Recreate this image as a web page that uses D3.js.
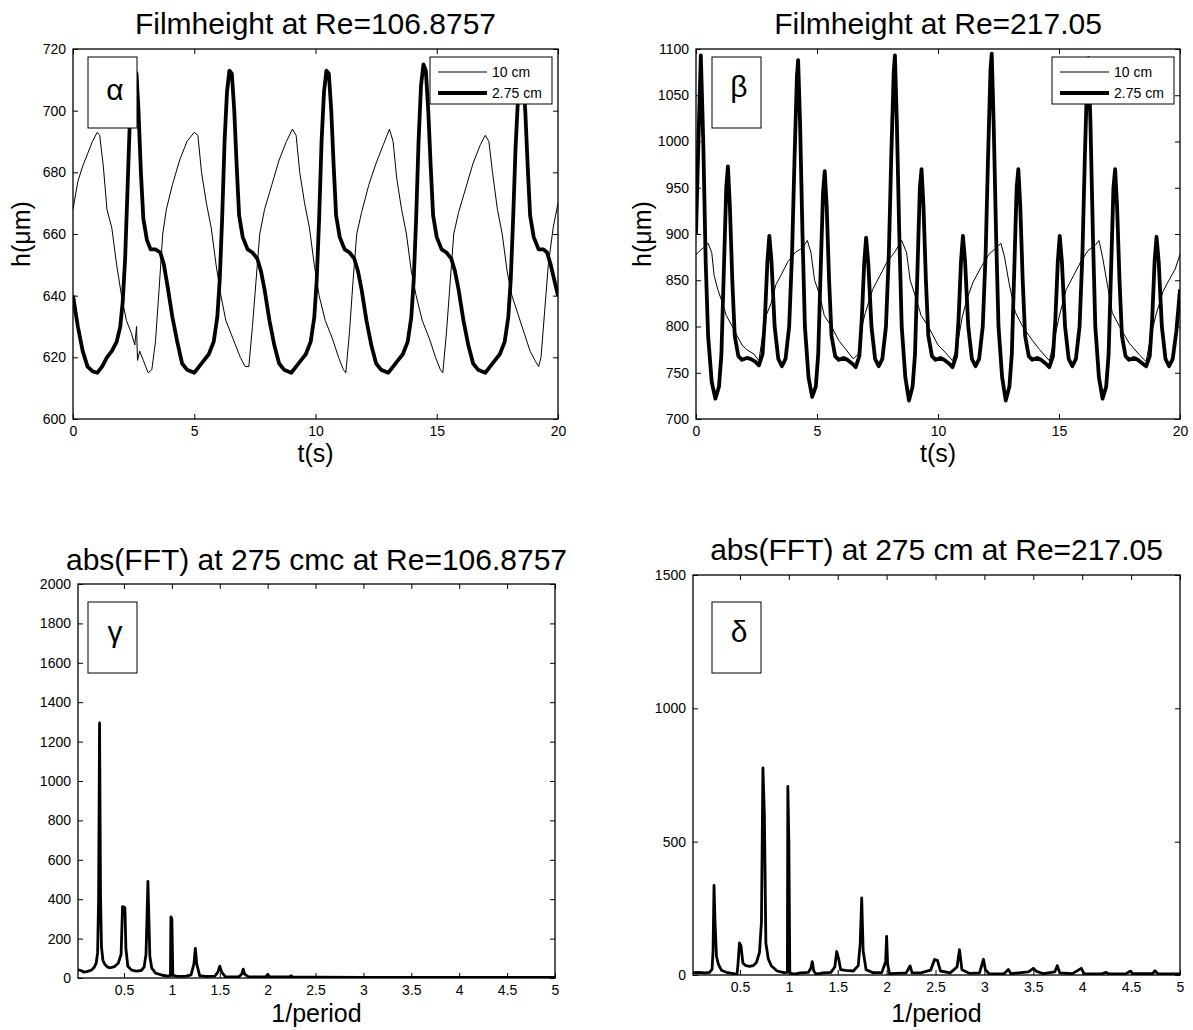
<!DOCTYPE html>
<html><head><meta charset="utf-8">
<script src="https://cdn.jsdelivr.net/npm/d3@7"></script>
<style>body{margin:0;background:#fff}svg{display:block}text{font-family:"Liberation Sans",Arial,sans-serif}</style>
</head><body>
<script>
// ---------------- DATA ----------------
const alphaTicksX = [0,5,10,15,20];
const alphaTicksY = [600,620,640,660,680,700,720];
const betaTicksY = [700,750,800,850,900,950,1000,1050,1100];
const gammaTicksY = [0,200,400,600,800,1000,1200,1400,1600,1800,2000];
const deltaTicksY = [0,500,1000,1500];
const fftTicksX = [0.5,1,1.5,2,2.5,3,3.5,4,4.5,5];
const legendLabels = ["10 cm","2.75 cm"];

// Panel alpha, Re=106.8757 : [t(s), h(um)]
const alpha10 = [[0,668],[0.2,677],[0.4,682],[0.6,686],[0.8,690],[1.0,693],[1.1,692],[1.25,682],[1.4,668],[1.6,662],[1.8,650],[2.0,640],[2.2,632],[2.4,628],[2.55,624],[2.62,630],[2.66,619],[2.75,622],[2.9,619],[3.1,615],[3.25,616],[3.4,625],[3.55,642],[3.7,660],[3.85,668],[4.1,676],[4.4,684],[4.7,690],[5.0,693],[5.15,692],[5.3,680],[5.5,670],[5.7,662],[5.9,650],[6.1,640],[6.3,632],[6.6,626],[6.9,620],[7.1,617],[7.25,617],[7.4,630],[7.55,645],[7.7,660],[7.9,668],[8.2,676],[8.5,684],[8.8,690],[9.05,694],[9.2,692],[9.35,680],[9.55,670],[9.75,662],[9.95,650],[10.15,640],[10.4,632],[10.7,626],[10.95,620],[11.15,616],[11.25,615],[11.4,628],[11.55,645],[11.7,660],[11.9,667],[12.2,676],[12.5,683],[12.8,689],[13.05,694],[13.2,690],[13.35,678],[13.55,668],[13.75,660],[13.95,648],[14.15,640],[14.4,632],[14.7,626],[14.95,620],[15.15,616],[15.25,615],[15.4,628],[15.55,644],[15.7,660],[15.9,667],[16.2,675],[16.5,683],[16.8,689],[17.0,692],[17.15,690],[17.3,680],[17.5,668],[17.7,660],[17.9,648],[18.1,640],[18.35,634],[18.6,628],[18.85,622],[19.05,619],[19.2,617],[19.3,620],[19.45,635],[19.6,650],[19.8,662],[20,670]];
const alpha275 = [[0,640],[0.2,630],[0.4,622],[0.6,617],[0.8,615.5],[1.0,615],[1.2,617],[1.4,620],[1.6,622],[1.8,625],[1.95,630],[2.05,638],[2.15,652],[2.25,675],[2.35,698],[2.45,710],[2.55,713],[2.62,712],[2.7,700],[2.8,680],[2.9,665],[3.05,658],[3.2,655],[3.4,655],[3.6,654],[3.75,650],[3.9,643],[4.1,633],[4.3,625],[4.5,618],[4.7,616],[5.0,615],[5.2,617],[5.4,619],[5.6,621],[5.8,625],[5.95,633],[6.05,645],[6.15,665],[6.25,690],[6.35,706],[6.45,713],[6.55,712],[6.65,700],[6.75,682],[6.85,666],[7.0,659],[7.2,655],[7.4,654],[7.6,652],[7.75,648],[7.9,642],[8.1,632],[8.3,624],[8.5,618],[8.7,616],[9.0,615],[9.2,617],[9.4,619],[9.6,621],[9.8,625],[9.95,633],[10.05,645],[10.15,665],[10.25,690],[10.35,706],[10.45,713],[10.55,712],[10.65,700],[10.75,682],[10.85,666],[11.0,659],[11.2,655],[11.4,654],[11.6,652],[11.75,648],[11.9,642],[12.1,632],[12.3,624],[12.5,618],[12.7,616],[13.0,615],[13.2,617],[13.4,619],[13.6,621],[13.8,625],[13.95,633],[14.05,645],[14.15,665],[14.25,690],[14.35,708],[14.45,715],[14.55,713],[14.65,700],[14.75,682],[14.85,666],[15.0,659],[15.2,655],[15.4,654],[15.6,652],[15.75,648],[15.9,642],[16.1,632],[16.3,624],[16.5,618],[16.7,616],[17.0,615],[17.2,617],[17.4,619],[17.6,621],[17.8,625],[17.95,633],[18.05,645],[18.15,665],[18.25,688],[18.35,704],[18.45,712],[18.55,712],[18.65,700],[18.75,682],[18.85,666],[19.0,659],[19.2,655],[19.4,655],[19.55,654],[19.7,650],[19.85,645],[20,640]];

// Panel beta, Re=217.05
const beta10 = [[0,878],[0.3,885],[0.5,890],[0.65,880],[0.75,855],[0.9,840],[1.1,825],[1.25,812],[1.5,800],[1.7,790],[1.9,780],[2.1,775],[2.4,770],[2.6,763],[2.75,790],[2.9,812],[3.1,825],[3.3,845],[3.5,855],[3.8,870],[4.1,880],[4.4,885],[4.6,893],[4.75,880],[4.9,850],[5.1,835],[5.3,812],[5.6,800],[5.9,785],[6.2,775],[6.5,765],[6.7,770],[6.85,800],[7.0,815],[7.3,840],[7.6,855],[7.9,870],[8.2,880],[8.5,893],[8.7,880],[8.85,850],[9.1,830],[9.3,812],[9.6,800],[10.0,780],[10.3,772],[10.6,763],[10.8,780],[11.0,810],[11.2,830],[11.45,848],[11.8,865],[12.1,878],[12.4,885],[12.6,890],[12.75,875],[12.95,845],[13.2,815],[13.5,800],[13.9,785],[14.2,775],[14.6,763],[14.8,785],[15.0,810],[15.3,840],[15.6,855],[15.9,870],[16.2,882],[16.5,888],[16.65,893],[16.8,875],[17.0,845],[17.2,815],[17.5,800],[17.9,782],[18.3,770],[18.6,762],[18.8,790],[19.0,812],[19.3,838],[19.5,848],[19.8,862],[20,878]];
const beta275 = [[0,900],[0.1,1000],[0.2,1093],[0.3,1000],[0.4,870],[0.5,790],[0.65,740],[0.8,722],[0.95,735],[1.05,770],[1.15,860],[1.25,950],[1.32,973],[1.4,930],[1.5,850],[1.6,790],[1.75,768],[1.9,764],[2.1,766],[2.25,765],[2.45,762],[2.6,758],[2.75,770],[2.85,810],[2.95,870],[3.03,898],[3.12,870],[3.25,800],[3.4,765],[3.55,757],[3.7,765],[3.85,800],[3.97,880],[4.07,980],[4.17,1070],[4.22,1088],[4.3,1020],[4.4,900],[4.5,800],[4.65,745],[4.8,724],[4.95,735],[5.05,770],[5.15,860],[5.25,945],[5.32,968],[5.4,930],[5.5,850],[5.6,790],[5.75,768],[5.9,764],[6.1,766],[6.25,764],[6.45,760],[6.6,756],[6.75,768],[6.85,808],[6.95,868],[7.03,896],[7.12,868],[7.25,800],[7.4,765],[7.55,757],[7.7,765],[7.85,800],[7.97,880],[8.07,985],[8.17,1075],[8.22,1093],[8.3,1020],[8.4,900],[8.5,800],[8.65,745],[8.8,720],[8.95,735],[9.05,770],[9.15,860],[9.25,950],[9.32,970],[9.4,930],[9.5,850],[9.6,790],[9.75,768],[9.9,764],[10.1,766],[10.25,764],[10.45,760],[10.6,756],[10.75,768],[10.85,808],[10.95,870],[11.03,898],[11.12,870],[11.25,800],[11.4,765],[11.55,757],[11.7,765],[11.85,800],[11.97,880],[12.07,985],[12.17,1078],[12.22,1095],[12.3,1020],[12.4,900],[12.5,800],[12.65,745],[12.8,720],[12.95,735],[13.05,770],[13.15,860],[13.25,950],[13.32,970],[13.4,930],[13.5,850],[13.6,790],[13.75,768],[13.9,764],[14.1,766],[14.25,764],[14.45,760],[14.6,756],[14.75,768],[14.85,808],[14.95,870],[15.03,898],[15.12,870],[15.25,800],[15.4,765],[15.55,757],[15.7,765],[15.85,800],[15.97,880],[16.07,985],[16.17,1075],[16.22,1090],[16.3,1020],[16.4,900],[16.5,800],[16.65,745],[16.8,722],[16.95,735],[17.05,770],[17.15,860],[17.25,950],[17.32,970],[17.4,930],[17.5,850],[17.6,790],[17.75,768],[17.9,764],[18.1,766],[18.25,764],[18.45,760],[18.6,757],[18.75,768],[18.85,808],[18.95,870],[19.03,897],[19.12,870],[19.25,800],[19.4,765],[19.55,757],[19.7,765],[19.85,795],[20,840]];

// Panel gamma: abs(FFT) at Re=106.8757 : [1/period, amplitude]
const gammaFFT = [[0.02,42],[0.05,38],[0.08,30],[0.12,34],[0.16,40],[0.19,55],[0.21,75],[0.225,130],[0.235,400],[0.245,1295],[0.255,420],[0.265,160],[0.28,90],[0.3,70],[0.33,55],[0.36,52],[0.4,58],[0.44,75],[0.47,120],[0.485,362],[0.5,360],[0.51,355],[0.52,150],[0.54,60],[0.58,40],[0.63,35],[0.68,38],[0.71,55],[0.73,120],[0.74,300],[0.75,490],[0.76,300],[0.77,110],[0.79,50],[0.83,25],[0.9,14],[0.96,10],[0.985,12],[0.99,310],[1.0,300],[1.01,15],[1.05,8],[1.15,10],[1.2,16],[1.23,70],[1.245,150],[1.26,70],[1.29,12],[1.35,8],[1.45,10],[1.48,30],[1.5,60],[1.52,30],[1.56,6],[1.7,6],[1.73,20],[1.745,45],[1.76,20],[1.8,6],[1.98,6],[2.0,18],[2.02,6],[2.23,5],[2.245,12],[2.26,5],[2.5,4],[3,3],[3.5,3],[4,3],[4.5,3],[5,3]];

// Panel delta: abs(FFT) at Re=217.05
const deltaFFT = [[0.02,9],[0.08,10],[0.14,8],[0.19,10],[0.215,22],[0.225,90],[0.235,336],[0.245,200],[0.26,70],[0.28,40],[0.31,18],[0.36,10],[0.42,6],[0.47,2],[0.48,40],[0.495,120],[0.51,110],[0.53,45],[0.56,35],[0.6,32],[0.64,36],[0.67,48],[0.7,85],[0.72,200],[0.735,777],[0.75,600],[0.765,120],[0.79,60],[0.82,35],[0.88,15],[0.95,9],[0.985,10],[0.99,707],[1.0,500],[1.01,8],[1.05,3],[1.12,8],[1.2,10],[1.225,25],[1.24,50],[1.255,15],[1.28,3],[1.35,8],[1.43,10],[1.47,30],[1.49,88],[1.51,60],[1.53,20],[1.58,17],[1.66,15],[1.71,35],[1.73,120],[1.745,289],[1.76,90],[1.79,20],[1.86,9],[1.95,9],[1.99,50],[2.0,145],[2.01,40],[2.03,5],[2.1,6],[2.2,8],[2.24,34],[2.26,8],[2.35,8],[2.45,18],[2.49,58],[2.52,55],[2.55,15],[2.65,8],[2.72,30],[2.745,95],[2.77,20],[2.85,6],[2.95,8],[2.99,59],[3.01,20],[3.05,4],[3.2,5],[3.245,21],[3.27,5],[3.45,12],[3.5,25],[3.53,14],[3.6,5],[3.72,12],[3.745,35],[3.77,8],[3.9,5],[3.99,25],[4.02,5],[4.2,4],[4.245,10],[4.27,4],[4.45,5],[4.49,14],[4.52,5],[4.72,5],[4.745,16],[4.77,5],[4.9,4],[5,4]];

// ---------------- DRAW ----------------
const svg = d3.select("body").append("svg").attr("width",1193).attr("height",1030);
let clipId = 0;

function panel(o){
  const x = d3.scaleLinear().domain(o.xDomain).range([o.left,o.right]);
  const y = d3.scaleLinear().domain(o.yDomain).range([o.bottom,o.top]);
  const g = svg.append("g");
  const id = "clip"+(clipId++);
  g.append("clipPath").attr("id",id).append("rect")
    .attr("x",o.left).attr("y",o.top).attr("width",o.right-o.left).attr("height",o.bottom-o.top);

  const styleAxis = sel => {
    sel.select(".domain").remove();
    sel.selectAll("line").attr("stroke","#000").attr("stroke-width",1);
    sel.selectAll("text").attr("font-size",14).attr("fill","#000")
      .attr("font-family","'Liberation Sans',Arial,sans-serif");
  };
  const fmt = o.xFmt || (d=>d);
  g.append("g").attr("transform",`translate(0,${o.bottom})`)
    .call(d3.axisBottom(x).tickValues(o.xTicks).tickSize(-5).tickSizeOuter(0).tickPadding(7).tickFormat(fmt)).call(styleAxis);
  g.append("g").attr("transform",`translate(0,${o.top})`)
    .call(d3.axisTop(x).tickValues(o.xTicks).tickSize(-5).tickSizeOuter(0).tickFormat("")).call(styleAxis);
  g.append("g").attr("transform",`translate(${o.left},0)`)
    .call(d3.axisLeft(y).tickValues(o.yTicks).tickSize(-5).tickSizeOuter(0).tickPadding(7).tickFormat(d=>d)).call(styleAxis);
  g.append("g").attr("transform",`translate(${o.right},0)`)
    .call(d3.axisRight(y).tickValues(o.yTicks).tickSize(-5).tickSizeOuter(0).tickFormat("")).call(styleAxis);

  const line = d3.line().x(d=>x(d[0])).y(d=>y(d[1]));
  const lg = g.append("g").attr("clip-path",`url(#${id})`);
  o.series.forEach(s=>{
    lg.append("path").datum(s.data).attr("d",line).attr("fill","none")
      .attr("stroke","#000").attr("stroke-width",s.width).attr("stroke-linejoin","round");
  });

  // label box with greek letter
  const b = o.box;
  g.append("rect").attr("x",o.left+b.dx).attr("y",o.top+b.dy).attr("width",49).attr("height",71)
    .attr("fill","#fff").attr("stroke","#000").attr("stroke-width",1);
  g.append("text").attr("x",o.left+b.dx+27).attr("y",o.top+b.dy+b.base)
    .attr("text-anchor","middle").attr("font-size",30)
    .attr("font-family","'Liberation Serif','Times New Roman',serif").text(b.letter);

  // legend
  if(o.legend){
    const L = o.legend;
    const lx = o.right-6-L.w, ly = o.top+8;
    g.append("rect").attr("x",lx).attr("y",ly).attr("width",L.w).attr("height",47)
      .attr("fill","#fff").attr("stroke","#000").attr("stroke-width",1);
    o.series.forEach((s,i)=>{
      const yy = ly+15+i*21;
      g.append("line").attr("x1",lx+8).attr("x2",lx+57).attr("y1",yy).attr("y2",yy)
        .attr("stroke","#000").attr("stroke-width",s.width);
      g.append("text").attr("x",lx+62).attr("y",yy+5).attr("font-size",14).text(legendLabels[i]);
    });
  }

  // frame
  g.append("rect").attr("x",o.left).attr("y",o.top).attr("width",o.right-o.left).attr("height",o.bottom-o.top)
    .attr("fill","none").attr("stroke","#000").attr("stroke-width",1.3);

  // titles
  const cx = (o.left+o.right)/2;
  g.append("text").attr("x",cx).attr("y",o.titleY).attr("text-anchor","middle").attr("font-size",30).text(o.title);
  g.append("text").attr("x",cx).attr("y",o.xlabelY).attr("text-anchor","middle").attr("font-size",25).text(o.xlabel);
  if(o.ylabel){
    const ym=(o.top+o.bottom)/2;
    g.append("text").attr("transform",`translate(${o.ylabelX},${ym}) rotate(-90)`).attr("text-anchor","middle")
      .attr("font-size",25).text(o.ylabel);
  }
}

panel({left:73,right:558,top:49,bottom:419,xDomain:[0,20],yDomain:[600,720],xTicks:alphaTicksX,yTicks:alphaTicksY,
  series:[{data:alpha10,width:1},{data:alpha275,width:3.8}],
  box:{dx:15,dy:8,letter:"α",base:43},legend:{w:122},
  title:"Filmheight at Re=106.8757",titleY:34,xlabel:"t(s)",xlabelY:462,ylabel:"h(μm)",ylabelX:30});

panel({left:696,right:1180,top:49,bottom:419,xDomain:[0,20],yDomain:[700,1100],xTicks:alphaTicksX,yTicks:betaTicksY,
  series:[{data:beta10,width:1},{data:beta275,width:3.8}],
  box:{dx:16,dy:8,letter:"β",base:40},legend:{w:122},
  title:"Filmheight at Re=217.05",titleY:34,xlabel:"t(s)",xlabelY:462,ylabel:"h(μm)",ylabelX:651});

panel({left:78,right:555,top:584,bottom:978,xDomain:[0.02,5],yDomain:[0,2000],xTicks:fftTicksX,yTicks:gammaTicksY,
  series:[{data:gammaFFT,width:2.8}],
  box:{dx:10,dy:18,letter:"γ",base:40},
  title:"abs(FFT) at 275 cmc at Re=106.8757",titleY:570,xlabelY:1022,xlabel:"1/period"});

panel({left:693,right:1180,top:575,bottom:975,xDomain:[0.02,5],yDomain:[0,1500],xTicks:fftTicksX,yTicks:deltaTicksY,
  series:[{data:deltaFFT,width:2.8}],
  box:{dx:19,dy:27,letter:"δ",base:40},
  title:"abs(FFT) at 275 cm at Re=217.05",titleY:560,xlabelY:1022,xlabel:"1/period"});
</script>
</body></html>
